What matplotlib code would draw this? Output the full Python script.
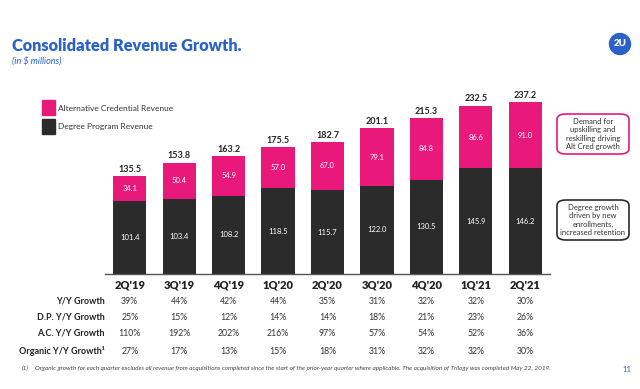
"""
plot.py - 2U consolidated revenue growth slide
"""

import matplotlib
matplotlib.use("Agg")
import matplotlib.pyplot as plt
from matplotlib.patches import FancyBboxPatch, Ellipse, Rectangle
from matplotlib.transforms import blended_transform_factory

plt.rcParams['font.family'] = ['Lato', 'DejaVu Sans']

# data
quarters = ["2Q'19", "3Q'19", "4Q'19", "1Q'20", "2Q'20", "3Q'20", "4Q'20", "1Q'21", "2Q'21"]
degree_rev = [101.4, 103.4, 108.2, 118.5, 115.7, 122.0, 130.5, 145.9, 146.2]
altcred_rev = [34.1, 50.4, 54.9, 57.0, 67.0, 79.1, 84.8, 86.6, 91.0]
totals = [135.5, 153.8, 163.2, 175.5, 182.7, 201.1, 215.3, 232.5, 237.2]

row_labels = ["Y/Y Growth", "D.P. Y/Y Growth", "A.C. Y/Y Growth", "Organic Y/Y Growth\u00b9"]
yy_growth = ["39%", "44%", "42%", "44%", "35%", "31%", "32%", "32%", "30%"]
dp_growth = ["25%", "15%", "12%", "14%", "14%", "18%", "21%", "23%", "26%"]
ac_growth = ["110%", "192%", "202%", "216%", "97%", "57%", "54%", "52%", "36%"]
organic_growth = ["27%", "17%", "13%", "15%", "18%", "31%", "32%", "32%", "30%"]

PINK = "#E8197B"
DARK = "#2B2B2B"
BLUE = "#2A62C9"

W, H = 640, 389
fig = plt.figure(figsize=(W / 100, H / 100), dpi=100)


def fx(px):
    return px / W


def fy(py):
    # pixel measured from the top
    return 1 - py / H


# bar axes
ax = fig.add_axes([fx(105), fy(274), fx(550 - 105), (274 - 93) / H])
x = list(range(len(quarters)))
ax.bar(x, degree_rev, width=0.67, color=DARK, zorder=2)
ax.bar(x, altcred_rev, width=0.67, bottom=degree_rev, color=PINK, zorder=2)
ax.set_xlim(-0.5, 8.5)
ax.set_ylim(0, 250)
for side in ["top", "right", "left"]:
    ax.spines[side].set_visible(False)
ax.spines["bottom"].set_color("#555555")
ax.spines["bottom"].set_linewidth(1.0)
ax.set_yticks([])
ax.set_xticks([])

for i in x:
    ax.text(i, degree_rev[i] / 2, f"{degree_rev[i]:.1f}", ha="center", va="center",
            color="white", fontsize=5.5)
    ax.text(i, degree_rev[i] + altcred_rev[i] / 2, f"{altcred_rev[i]:.1f}", ha="center",
            va="center", color="white", fontsize=5.5)
    ax.text(i, totals[i] + 3, f"{totals[i]:.1f}", ha="center", va="bottom",
            color="#222222", fontsize=6.5, fontweight="bold")

# category labels and growth table
tr = blended_transform_factory(ax.transData, fig.transFigure)
for i, q in enumerate(quarters):
    ax.text(i, fy(285), q, transform=tr, ha="center", va="center", fontsize=8,
            fontweight="heavy", color="#222222")

rows = [yy_growth, dp_growth, ac_growth, organic_growth]
row_y = [301, 317, 333, 351]
for label, vals, py in zip(row_labels, rows, row_y):
    fig.text(fx(105), fy(py), label, ha="right", va="center", fontsize=6.5,
             fontweight="bold", color="#222222")
    for i, v in enumerate(vals):
        ax.text(i, fy(py), v, transform=tr, ha="center", va="center", fontsize=6.3,
                color="#333333")

# legend
fig.patches.append(Rectangle((fx(42), fy(115)), fx(13), 15 / H, transform=fig.transFigure,
                             color=PINK))
fig.patches.append(Rectangle((fx(42), fy(134)), fx(13), 15 / H, transform=fig.transFigure,
                             color=DARK))
fig.text(fx(58), fy(108), "Alternative Credential Revenue", ha="left", va="center",
         fontsize=6, color="#333333")
fig.text(fx(58), fy(126), "Degree Program Revenue", ha="left", va="center",
         fontsize=6, color="#333333")

# title
fig.text(fx(12), fy(46), "Consolidated Revenue Growth.", ha="left", va="center",
         fontsize=11.8, fontweight="heavy", color=BLUE)
fig.text(fx(12), fy(61), "(in $ millions)", ha="left", va="center", fontsize=6.5,
         style="italic", color=BLUE)

# 2U logo
fig.patches.append(Ellipse((fx(620), fy(44)), 21 / W, 21 / H, transform=fig.transFigure,
                           color=BLUE))
fig.text(fx(620), fy(44), "2U", ha="center", va="center", fontsize=7,
         fontweight="heavy", color="white")

# side notes
notes = [
    (134, PINK, "Demand for\nupskilling and\nreskilling driving\nAlt Cred growth"),
    (220, DARK, "Degree growth\ndriven by new\nenrollments,\nincreased retention"),
]
for cy, col, txt in notes:
    bw, bh = 72, 40
    box = FancyBboxPatch((fx(593 - bw / 2), fy(cy + bh / 2)), fx(bw), bh / H,
                         boxstyle="round,pad=0,rounding_size=0.014",
                         transform=fig.transFigure, facecolor="white", edgecolor=col,
                         linewidth=1.2)
    fig.patches.append(box)
    fig.text(fx(593), fy(cy), txt, ha="center", va="center", fontsize=5.5,
             color="#333333", linespacing=1.25)

# footnote
fig.text(fx(22), fy(368), "(1)", ha="left", va="center", fontsize=4.6, style="italic",
         color="#444444")
fig.text(fx(35), fy(368), "Organic growth for each quarter excludes all revenue from "
         "acquisitions completed since the start of the prior-year quarter where applicable. "
         "The acquisition of Trilogy was completed May 22, 2019.",
         ha="left", va="center", fontsize=4.6, style="italic", color="#444444")
fig.text(fx(627), fy(370), "11", ha="center", va="center", fontsize=5.5, color=BLUE)

fig.savefig("out.png", dpi=100)
